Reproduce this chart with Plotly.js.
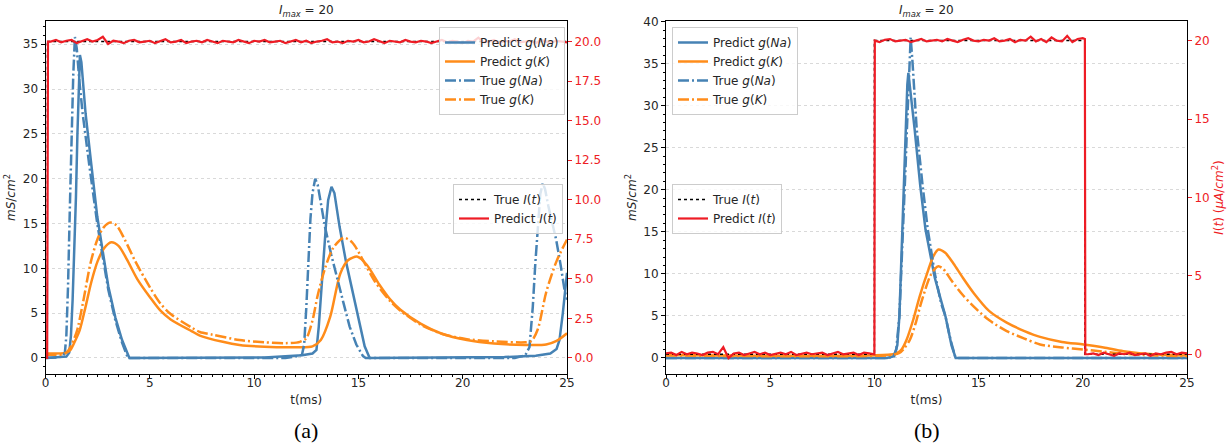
<!DOCTYPE html>
<html>
<head>
<meta charset="utf-8">
<script src="https://cdn.plot.ly/plotly-3.0.1.min.js"></script>
<style>html,body{margin:0;padding:0;background:#fff;}#chart{width:1231px;height:447px;}</style>
</head>
<body>
<div id="chart"></div>
<script>
// ---------------- Panel (a) data ----------------
const tNaTrueA = [0, 0.6, 0.85, 0.93, 1.0, 1.08, 1.17, 1.25, 1.33, 1.41, 1.5, 1.62, 1.78, 2.1, 2.48, 3.01, 3.35, 3.67, 3.85, 3.95, 11.5, 12.1, 12.3, 12.4, 12.5, 12.6, 12.7, 12.8, 12.93, 13.05, 13.2, 13.4, 13.7, 13.95, 14.3, 14.58, 14.9, 15.22, 15.35, 22.5, 23.0, 23.2, 23.36, 23.48, 23.6, 23.72, 23.84, 23.95, 24.1, 24.3, 24.48, 24.7, 24.88, 25];
const gNaTrueA = [0, 0.05, 0.2, 0.6, 2.5, 8, 17, 25, 31.5, 35.8, 34.5, 31, 27.3, 21.5, 15.0, 7.6, 4.2, 1.7, 0.5, 0, 0, 0.2, 0.4, 1.5, 5.5, 11, 15.5, 18.4, 20.0, 19.3, 17.2, 14.6, 11.5, 9.1, 6.0, 3.5, 1.5, 0.2, 0, 0, 0.3, 1.2, 5.7, 10.5, 15, 18.3, 19.5, 18.8, 17.0, 15.0, 13.2, 10.3, 7.6, 6.5];

const tNaPredA = [0, 1.0, 1.14, 1.22, 1.3, 1.38, 1.46, 1.53, 1.59, 1.65, 1.72, 1.8, 1.92, 2.2, 2.48, 3.01, 3.35, 3.67, 3.9, 4.02, 10.5, 12.0, 12.3, 12.8, 12.99, 13.1, 13.2, 13.3, 13.45, 13.55, 13.71, 13.85, 14.1, 14.4, 14.74, 15.0, 15.3, 15.54, 22.0, 23.5, 24.2, 24.5, 24.64, 24.8, 24.9, 25];
const gNaPredA = [0, 0.15, 0.6, 2.5, 6.5, 12, 18, 25, 30.5, 33.8, 33.0, 30.8, 27.3, 21.5, 15.8, 8.0, 4.5, 2.0, 0.6, 0, 0.05, 0.2, 0.3, 0.5, 0.9, 3.5, 7, 10.9, 15, 17.6, 19.1, 18.4, 14.6, 10.8, 7.2, 4.2, 1.3, 0, 0.1, 0.25, 0.5, 1.0, 2.0, 5.0, 7.6, 9.5];

const tKPredA = [0, 1.0, 1.2, 1.4, 1.64, 1.9, 2.2, 2.5, 2.8, 3.15, 3.5, 3.9, 4.4, 5.0, 5.5, 6.0, 7.0, 7.4, 8.5, 9.3, 10.5, 12.0, 12.8, 13.2, 13.65, 14.13, 14.5, 14.96, 15.4, 16.0, 16.5, 17.0, 18.0, 19.0, 20.2, 21.5, 23.0, 24.0, 24.5, 25];
const gKPredA = [0.5, 0.6, 0.9, 1.8, 3.1, 5.5, 8.5, 10.8, 12.2, 12.9, 12.5, 11.0, 8.8, 6.8, 5.3, 4.3, 3.0, 2.5, 1.8, 1.45, 1.25, 1.2, 1.3, 2.0, 4.6, 9.4, 10.9, 11.3, 10.4, 8.2, 6.6, 5.4, 3.8, 2.7, 2.0, 1.6, 1.45, 1.5, 1.9, 2.75];

const tKTrueA = [0, 0.8, 1.0, 1.2, 1.4, 1.52, 1.8, 2.16, 2.5, 2.8, 3.1, 3.4, 3.8, 4.3, 5.0, 5.5, 6.0, 7.0, 7.4, 8.0, 9.3, 10.5, 11.5, 12.2, 12.5, 12.8, 13.05, 13.4, 13.8, 14.3, 14.7, 15.2, 15.8, 16.5, 17.0, 18.0, 19.0, 20.2, 21.5, 23.0, 23.3, 23.6, 24.0, 24.5, 25];
const gKTrueA = [0.35, 0.4, 0.6, 1.2, 2.3, 3.1, 6.2, 10.6, 13.3, 14.6, 15.1, 14.8, 13.2, 10.8, 7.9, 6.1, 4.9, 3.4, 2.9, 2.6, 2.0, 1.75, 1.65, 1.8, 2.2, 4.2, 7.0, 10.0, 12.3, 13.4, 12.9, 11.0, 8.5, 6.4, 5.3, 3.7, 2.7, 2.1, 1.85, 1.75, 1.9, 3.2, 7.3, 10.8, 13.2];

const tITrueA = [0, 0, 25];
const iTrueA = [0, 20, 20];

const tIPredAStart = [0, 0.08, 0.12];
const iPredAStart = [0, 0, 20.0];
// sampled every 0.25 ms from 0.25 to 25
const iPredAHigh = [
  20.0, 20.1, 19.95, 20.05, 20.1, 19.9, 20.05, 20.15, 20.0, 20.1,
  20.3, 19.85, 20.05, 20.0, 19.9, 20.05, 20.1, 19.95, 20.0, 20.05,
  19.9, 20.05, 20.15, 19.95, 20.0, 20.1, 19.9, 20.0, 20.05, 19.95,
  20.1, 20.0, 19.9, 20.05, 20.0, 19.95, 20.1, 20.0, 19.9, 20.05,
  20.0, 20.1, 19.95, 20.0, 20.05, 19.9, 20.0, 20.1, 19.95, 20.05,
  19.9, 20.0, 20.05, 20.15, 19.95, 20.0, 19.9, 20.05, 20.0, 20.1,
  19.95, 20.0, 20.15, 20.0, 19.9, 20.05, 20.0, 19.95, 20.1, 20.0,
  19.95, 20.05, 20.0, 19.9, 20.0, 20.1, 19.95, 20.05, 20.0, 19.9,
  20.05, 20.0, 20.25, 19.95, 20.0, 20.1, 19.9, 20.05, 20.0, 20.15,
  19.95, 20.0, 20.05, 19.9, 20.1, 20.0, 19.95, 20.05, 20.0, 19.95
];

// ---------------- Panel (b) data ----------------
const tNaTrueB = [0, 10.5, 10.9, 11.05, 11.2, 11.39, 11.5, 11.56, 11.65, 11.74, 11.82, 12.03, 12.3, 12.56, 12.9, 13.2, 13.41, 13.65, 13.87, 14.0, 25];
const gNaTrueB = [0, 0, 0.1, 1.0, 5, 15.3, 23, 27.2, 33, 38.1, 35.5, 27.2, 20.8, 15.3, 10.0, 6.5, 4.95, 2.2, 0.2, 0, 0];

const tNaPredB = [0, 10.6, 10.95, 11.1, 11.2, 11.34, 11.5, 11.58, 11.63, 11.7, 11.93, 12.2, 12.45, 12.9, 13.41, 13.7, 13.9, 25];
const gNaPredB = [0, 0, 0.2, 1.5, 5, 15.3, 27.2, 32.5, 33.9, 32.5, 27.2, 20.5, 15.3, 9.5, 4.95, 1.5, 0, 0];

const tKPredB = [0, 10.8, 11.1, 11.3, 11.55, 11.87, 12.17, 12.59, 12.83, 13.07, 13.4, 13.8, 14.2, 14.77, 15.5, 16.35, 17.2, 17.95, 19.0, 20.03, 21.0, 21.95, 23.55, 25];
const gKPredB = [0.35, 0.4, 0.6, 1.0, 2.2, 4.6, 7.3, 10.5, 12.1, 12.9, 12.5, 11.2, 9.7, 7.7, 5.6, 4.2, 3.2, 2.5, 1.9, 1.6, 1.25, 0.8, 0.4, 0.3];

const tKTrueB = [0, 10.8, 11.2, 11.45, 11.71, 12.0, 12.19, 12.45, 12.67, 12.9, 13.07, 13.3, 13.7, 14.2, 14.77, 15.5, 16.35, 17.2, 17.95, 19.0, 20.03, 21.0, 21.95, 23.55, 25];
const gKTrueB = [0.3, 0.35, 0.6, 1.2, 2.2, 4.3, 6.1, 8.2, 9.7, 10.6, 10.9, 10.6, 9.2, 7.6, 6.1, 4.5, 3.2, 2.3, 1.6, 1.25, 1.0, 0.75, 0.5, 0.3, 0.2];

const tITrueB = [0, 10, 10, 20.1, 20.1, 25];
const iTrueB = [0, 0, 20, 20, 0, 0];

// predicted current, sampled every 0.25 ms
const iPredBLow1 = [  // t = 0 .. 10.0
  0.05, 0.1, -0.05, 0.15, 0.0, 0.1, 0.05, -0.05, 0.1, 0.15,
  0.0, 0.45, -0.25, 0.05, 0.1, -0.05, 0.05, 0.15, 0.0, 0.1,
  -0.05, 0.05, 0.1, 0.0, 0.15, -0.05, 0.05, 0.1, 0.0, 0.05,
  0.1, -0.05, 0.05, 0.15, 0.0, 0.05, 0.1, -0.05, 0.1, 0.05, 0.0
];
const iPredBHigh = [  // t = 10.02, then 10.25 .. 20.0, then 20.1
  20.0,
  19.9, 20.05, 20.1, 19.95, 20.0, 20.05, 19.9, 20.0, 20.1, 19.95,
  20.0, 20.05, 19.95, 20.1, 20.0, 19.9, 20.05, 20.15, 20.0, 19.95,
  20.05, 20.0, 20.15, 19.95, 20.0, 20.1, 19.9, 20.05, 20.0, 20.25,
  19.95, 20.1, 19.9, 20.2, 20.0, 19.95, 20.3, 19.9, 20.1, 20.15,
  20.1
];
const iPredBLow2 = [  // t = 20.12, then 20.25 .. 25
  0.0,
  0.0, 0.05, -0.05, 0.1, 0.0, -0.1, 0.05, 0.0, 0.1, -0.05,
  0.0, 0.05, -0.1, 0.05, 0.0, 0.1, 0.15, 0.0, 0.1, 0.05
];

// ---------------- build sample times ----------------
const tIPredA = tIPredAStart.slice();
const iPredA = iPredAStart.slice();
for (let k = 0; k < iPredAHigh.length; k++) { tIPredA.push(0.25 * (k + 1)); iPredA.push(iPredAHigh[k]); }

const tIPredB = [], iPredB = [];
for (let k = 0; k < iPredBLow1.length; k++) { tIPredB.push(0.25 * k); iPredB.push(iPredBLow1[k]); }
tIPredB.push(10.02); iPredB.push(iPredBHigh[0]);
for (let k = 1; k < iPredBHigh.length - 1; k++) { tIPredB.push(10 + 0.25 * k); iPredB.push(iPredBHigh[k]); }
tIPredB.push(20.1); iPredB.push(iPredBHigh[iPredBHigh.length - 1]);
tIPredB.push(20.12); iPredB.push(iPredBLow2[0]);
for (let k = 1; k < iPredBLow2.length; k++) { tIPredB.push(20 + 0.25 * k); iPredB.push(iPredBLow2[k]); }

// ---------------- styles ----------------
const BLUE = '#4682b4', ORANGE = '#ff8c1a', RED = '#ee1c25';
const DASHDOT = '11px,3px,2px,3px';
const LW = 2.5;

function g(x, y, name, color, dash, xa, ya, leg, sm) {
  const ln = {color: color, width: LW, dash: dash};
  if (sm > 0) { ln.shape = 'spline'; ln.smoothing = sm; }
  return {x: x, y: y, name: name, type: 'scatter', mode: 'lines', xaxis: xa, yaxis: ya, legend: leg,
          line: ln, hoverinfo: 'skip'};
}

const traces = [
  g(tNaPredA, gNaPredA, 'Predict <i>g</i>(<i>Na</i>)', BLUE, 'solid', 'x', 'y', 'legend', 0),
  g(tKPredA, gKPredA, 'Predict <i>g</i>(<i>K</i>)', ORANGE, 'solid', 'x', 'y', 'legend', 0.8),
  g(tNaTrueA, gNaTrueA, 'True <i>g</i>(<i>Na</i>)', BLUE, DASHDOT, 'x', 'y', 'legend', 0),
  g(tKTrueA, gKTrueA, 'True <i>g</i>(<i>K</i>)', ORANGE, DASHDOT, 'x', 'y', 'legend', 0.8),
  {x: tITrueA, y: iTrueA, name: 'True <i>I</i>(<i>t</i>)', type: 'scatter', mode: 'lines', xaxis: 'x', yaxis: 'y2', legend: 'legend2',
   line: {color: '#000', width: 1.5, dash: 'dot'}, hoverinfo: 'skip'},
  {x: tIPredA, y: iPredA, name: 'Predict <i>I</i>(<i>t</i>)', type: 'scatter', mode: 'lines', xaxis: 'x', yaxis: 'y2', legend: 'legend2',
   line: {color: RED, width: 2.2}, hoverinfo: 'skip'},

  g(tNaPredB, gNaPredB, 'Predict <i>g</i>(<i>Na</i>)', BLUE, 'solid', 'x2', 'y3', 'legend3', 0),
  g(tKPredB, gKPredB, 'Predict <i>g</i>(<i>K</i>)', ORANGE, 'solid', 'x2', 'y3', 'legend3', 0.8),
  g(tNaTrueB, gNaTrueB, 'True <i>g</i>(<i>Na</i>)', BLUE, DASHDOT, 'x2', 'y3', 'legend3', 0),
  g(tKTrueB, gKTrueB, 'True <i>g</i>(<i>K</i>)', ORANGE, DASHDOT, 'x2', 'y3', 'legend3', 0.8),
  {x: tITrueB, y: iTrueB, name: 'True <i>I</i>(<i>t</i>)', type: 'scatter', mode: 'lines', xaxis: 'x2', yaxis: 'y4', legend: 'legend4',
   line: {color: '#000', width: 1.5, dash: 'dot'}, hoverinfo: 'skip'},
  {x: tIPredB, y: iPredB, name: 'Predict <i>I</i>(<i>t</i>)', type: 'scatter', mode: 'lines', xaxis: 'x2', yaxis: 'y4', legend: 'legend4',
   line: {color: RED, width: 2.2}, hoverinfo: 'skip'}
];

const W = 1231, H = 447;
const xA = [45.5 / W, 567 / W], xB = [666 / W, 1187 / W];
const yD = [(H - 374) / H, (H - 21) / H];
const TXT = '#262626';

function xax(dom, anchor) {
  return {domain: dom, anchor: anchor, range: [0, 25], tick0: 0, dtick: 5, ticks: 'outside', ticklen: 4, tickwidth: 1,
          tickcolor: '#000', showline: true, linecolor: '#000', linewidth: 1, mirror: true, showgrid: false, zeroline: false,
          minor: {ticks: 'outside', ticklen: 2, dtick: 0.5, tickcolor: '#000', showgrid: false},
          tickfont: {size: 12, color: TXT}, ticklabelstandoff: -6,
          title: {text: 't(ms)', standoff: 6, font: {size: 12, color: TXT}}};
}
function yax(dom, anchor, range) {
  return {domain: dom, anchor: anchor, range: range, tick0: 0, dtick: 5, ticks: 'outside', ticklen: 4, tickwidth: 1,
          tickcolor: '#000', showline: true, linecolor: '#000', linewidth: 1, zeroline: false,
          showgrid: true, gridcolor: '#d9d9d9', griddash: 'dot', gridwidth: 1,
          minor: {ticks: 'outside', ticklen: 2, dtick: 1, tickcolor: '#000', showgrid: false},
          tickfont: {size: 12, color: TXT},
          title: {text: '<i>mS</i>/<i>cm</i><sup>2</sup>', standoff: 4, font: {size: 12, color: TXT}}};
}
function y2ax(over, anchor, range, dtick, fmt, title) {
  const a = {overlaying: over, anchor: anchor, side: 'right', range: range, tick0: 0, dtick: dtick, tickformat: fmt,
          ticks: 'outside', ticklen: 4, tickwidth: 1, tickcolor: RED, showline: true, linecolor: '#000', linewidth: 1,
          showgrid: false, zeroline: false, tickfont: {size: 12, color: RED}};
  if (title) a.title = {text: title, standoff: 4, font: {size: 12, color: RED}};
  return a;
}
function leg(x, y, xanchor) {
  return {x: x, y: y, xanchor: xanchor, yanchor: 'top', bgcolor: 'rgba(255,255,255,0.8)', bordercolor: '#cccccc',
          borderwidth: 1, font: {size: 12, color: TXT, family: 'DejaVu Sans'}, itemwidth: 30, tracegroupgap: 0, traceorder: 'normal'};
}

const layout = {
  width: W, height: H, margin: {l: 0, r: 0, t: 0, b: 0}, paper_bgcolor: '#fff', plot_bgcolor: '#fff',
  font: {family: 'DejaVu Sans', size: 12, color: TXT},
  showlegend: true,
  xaxis: xax(xA, 'y'),
  yaxis: yax(yD, 'x', [-1.79, 37.59]),
  yaxis2: y2ax('y', 'x', [-1.02, 21.3], 2.5, '.1f', null),
  xaxis2: xax(xB, 'y3'),
  yaxis3: yax(yD, 'x2', [-1.91, 40.07]),
  yaxis4: y2ax('y3', 'x2', [-1.26, 21.25], 5, 'd', '<i>I</i>(<i>t</i>) (<i>μA</i>/<i>cm</i><sup>2</sup>)'),
  legend: leg(565 / W, 1 - 27 / H, 'right'),
  legend2: leg(563 / W, 1 - 184 / H, 'right'),
  legend3: leg(672 / W, 1 - 27 / H, 'left'),
  legend4: leg(672 / W, 1 - 184 / H, 'left'),
  annotations: [
    {text: '<i>I</i><sub><i>max</i></sub> = 20', x: (xA[0] + xA[1]) / 2, y: 1 - 11 / H, xref: 'paper', yref: 'paper',
     xanchor: 'center', yanchor: 'middle', showarrow: false, font: {size: 12, color: TXT}},
    {text: '<i>I</i><sub><i>max</i></sub> = 20', x: (xB[0] + xB[1]) / 2, y: 1 - 11 / H, xref: 'paper', yref: 'paper',
     xanchor: 'center', yanchor: 'middle', showarrow: false, font: {size: 12, color: TXT}},
    {text: '(a)', x: (xA[0] + xA[1]) / 2, y: 1 - 430 / H, xref: 'paper', yref: 'paper', xanchor: 'center', yanchor: 'middle',
     showarrow: false, font: {size: 22, color: '#000', family: 'Liberation Serif'}},
    {text: '(b)', x: (xB[0] + xB[1]) / 2, y: 1 - 430 / H, xref: 'paper', yref: 'paper', xanchor: 'center', yanchor: 'middle',
     showarrow: false, font: {size: 22, color: '#000', family: 'Liberation Serif'}}
  ]
};

Plotly.newPlot('chart', traces, layout, {staticPlot: true, displayModeBar: false});
</script>
</body>
</html>
